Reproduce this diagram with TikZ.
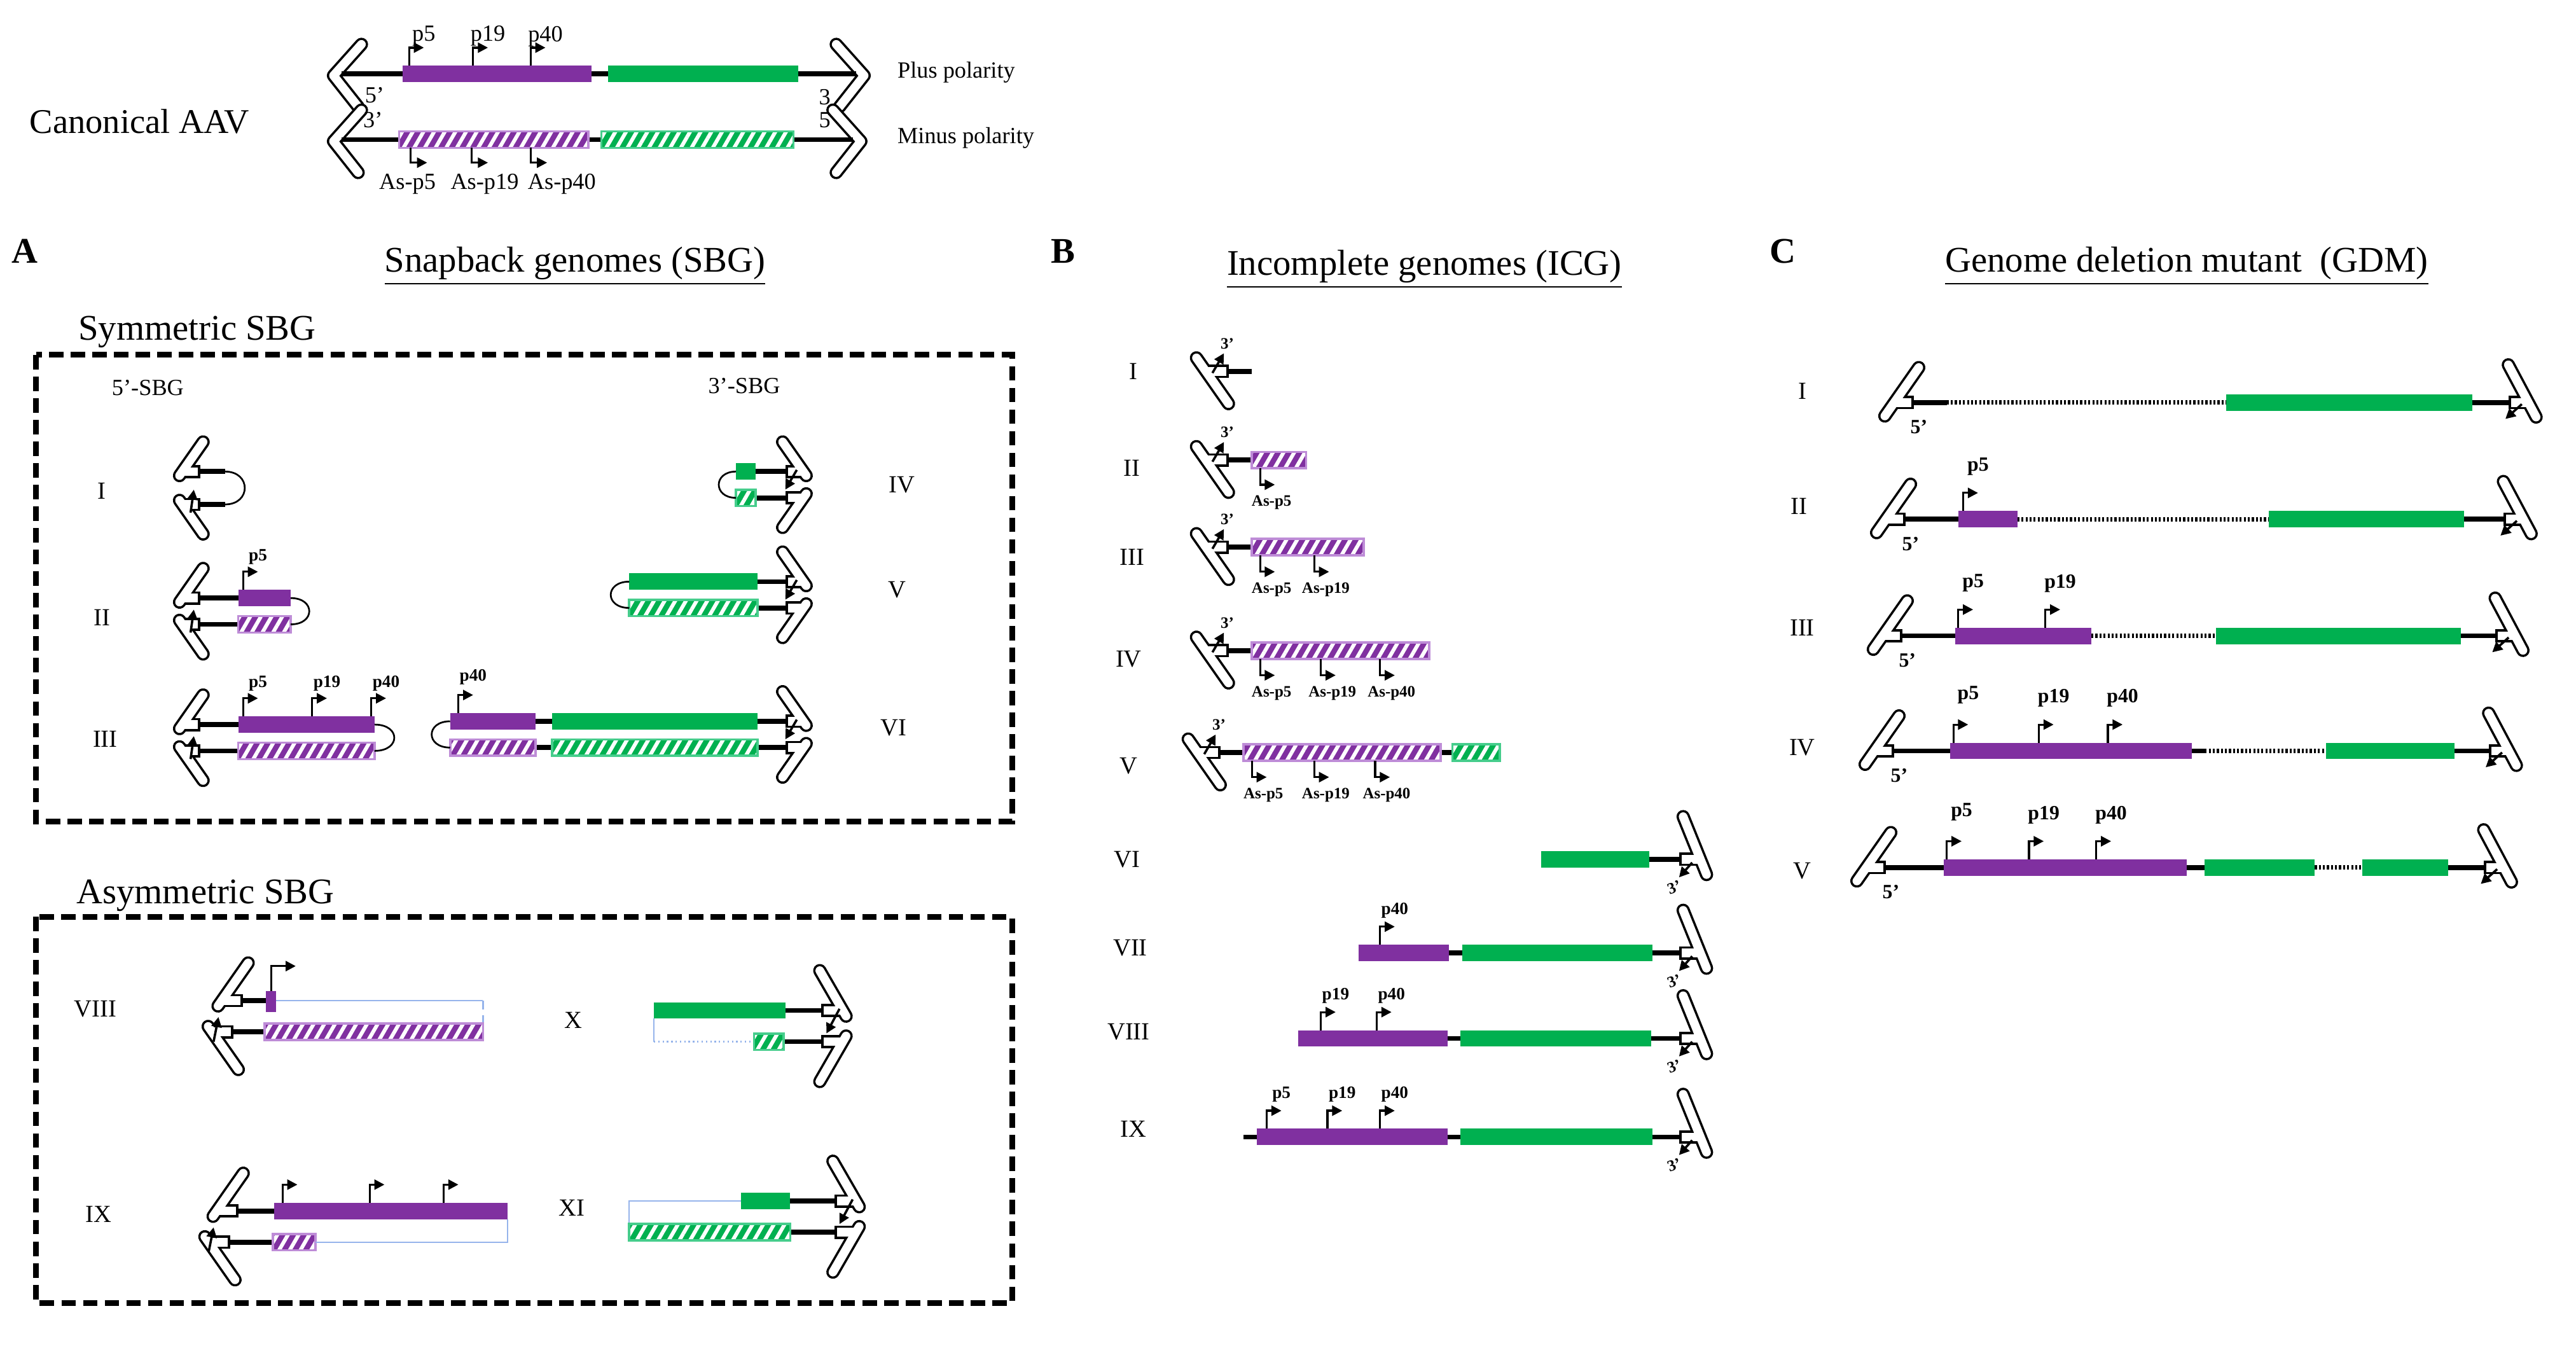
\documentclass[tikz,border=0pt]{standalone}
\usepackage{fontspec}
\setmainfont{Liberation Serif}
\usetikzlibrary{arrows.meta,patterns.meta}
\definecolor{purp}{RGB}{128,48,160}
\definecolor{lpurp}{RGB}{190,140,215}
\definecolor{grn}{RGB}{0,176,80}
\definecolor{lgrn}{RGB}{70,205,140}
\definecolor{thinb}{RGB}{150,180,235}
\tikzset{
 pb/.style={fill=purp},
 gb/.style={fill=grn},
 ph/.style={draw=lpurp,line width=0.8pt,preaction={fill=purp},pattern={Lines[angle=60,distance=3.2pt,line width=1.3pt]},pattern color=white},
 gh/.style={draw=lgrn,line width=0.8pt,preaction={fill=grn},pattern={Lines[angle=60,distance=3.2pt,line width=1.3pt]},pattern color=white},
 strand/.style={line width=1.7pt},
 dots/.style={line width=1.6pt,dash pattern=on 0.7pt off 0.7pt},
 thinl/.style={thinb,line width=0.5pt},
 itro/.style={line width=4.6pt,line cap=round,line join=round},
 itri/.style={white,line width=3.0pt,line cap=round,line join=round},
 prom/.style={line width=0.7pt,-{Triangle[length=3.5pt,width=3.5pt]}},
 sarr/.style={line width=0.8pt,-{Triangle[length=3.5pt,width=3.5pt]}},
 loopl/.style={line width=0.6pt},
 lbl/.style={font=\fontsize{6}{6}\selectfont\bfseries,inner sep=0},
 clbl/.style={font=\fontsize{7}{7}\selectfont\bfseries,inner sep=0},
 blbl/.style={font=\fontsize{5.5}{5.5}\selectfont\bfseries,inner sep=0},
 nlbl/.style={font=\fontsize{8}{8}\selectfont,inner sep=0},
 rom/.style={font=\fontsize{8.5}{8.5}\selectfont,inner sep=0},
 ttl/.style={font=\fontsize{12.5}{12.5}\selectfont,inner sep=0},
 big/.style={font=\fontsize{12.5}{12.5}\selectfont\bfseries,inner sep=0},
 dbox/.style={line width=2pt,dash pattern=on 5pt off 2.5pt}
}
\newcommand\bx[4]{\path[#1] (#2,#4-5) rectangle (#3,#4+5);}
\newcommand\sd[3]{\draw[strand] (#1,#3)--(#2,#3);}
\newcommand\dd[3]{\draw[dots] (#1,#3)--(#2,#3);}
\newcommand\pu[5]{\draw[prom] (#1,#2)--(#1,#2-11)--(#1+9,#2-11);\node[#4] at (#1+9,#2-#5) {#3};}
\newcommand\pua[2]{\draw[prom] (#1,#2)--(#1,#2-11)--(#1+9,#2-11);}
\newcommand\pd[4]{\draw[prom] (#1,#2)--(#1,#2+10)--(#1+9,#2+10);\node[blbl] at (#1+7,#2+#4) {#3};}
% T-shaped ITR: x,y junction; stem dx; visual angle; len+; len-
\newcommand\itr[6]{%
 \draw[itro] (#1+#3,#2) ++({-(#4)}:#5) -- ++({180-(#4)}:{#5+#6});
 \draw[itro,line cap=butt] (#1+#3,#2)--(#1,#2);
 \draw[itri] (#1+#3,#2) ++({-(#4)}:#5) -- ++({180-(#4)}:{#5+#6});
 \draw[itri,line cap=butt] (#1+#3,#2)--({#1+1.5*sign(#3)},#2);}
% V-shaped ITR: vertex x,y; dir; junction x
\newcommand\itrv[4]{%
 \draw[itro] (#1+#3*17,#2-19)--(#1,#2)--(#1+#3*15,#2+19);
 \draw[itri] (#1+#3*17,#2-19)--(#1,#2)--(#1+#3*15,#2+19);
 \draw[strand] (#1+#3*5,#2-1)--(#4,#2-1);}
\begin{document}
\begin{tikzpicture}[x=0.02cm,y=-0.02cm]
\useasboundingbox (0,0) rectangle (1568,819);
% ---------------- canonical
\node[ttl,font=\fontsize{12}{12}\selectfont] (can) at (85,74) {Canonical AAV};
\itrv{203}{46}{1}{222}\itrv{526}{46}{-1}{505}
\sd{218}{510}{45}\bx{pb}{245}{360}{45}\bx{gb}{370}{486}{45}
\itrv{203}{86}{1}{222}\itrv{524}{86}{-1}{505}
\sd{218}{508}{85}\bx{ph}{243}{358}{85}\bx{gh}{366}{483}{85}
\pu{249}{40}{p5}{nlbl}{18}\pu{288}{40}{p19}{nlbl}{18}\pu{323}{40}{p40}{nlbl}{18}
\draw[prom] (250,90)--(250,99)--(260,99);\draw[prom] (287,90)--(287,99)--(297,99);\draw[prom] (323,90)--(323,99)--(333,99);
\node[nlbl] (as5) at (248,112) {As-p5};\node[nlbl] (as19) at (295,112) {As-p19};\node[nlbl] (as40) at (342,112) {As-p40};
\node[nlbl] (c5) at (228,58) {5’};\node[nlbl] (c3) at (502,59) {3};
\node[nlbl] (c3b) at (227,73) {3’};\node[nlbl] (c5b) at (502,73) {5};
\node[nlbl,anchor=west] (plus) at (546,44) {Plus polarity};
\node[nlbl,anchor=west] (minus) at (546,84) {Minus polarity};
% ---------------- A
\node[big] (A) at (15,153) {A};
\node[ttl] (At) at (350,162) {\underline{Snapback genomes (SBG)}};
\node[ttl] (sym) at (120,202) {Symmetric SBG};
\draw[dbox] (22,216) rectangle (616,500);
\node[nlbl] (s5) at (90,236) {5’-SBG};\node[nlbl] (s3) at (453,235) {3’-SBG};
\node[rom] at (62,299) {I};\node[rom] at (62,376) {II};\node[rom] at (64,450) {III};
\node[rom] at (549,295) {IV};\node[rom] at (546,359) {V};\node[rom] at (544,443) {VI};
% sym I
\itr{122}{287}{-11}{55}{22}{3}\itr{122}{307}{-11}{-55}{22}{3}
\sd{122}{137}{287}\sd{122}{137}{307}
\draw[loopl] (137,287) .. controls (153,287) and (153,307) .. (137,307);
\draw[sarr] (116,312)--(118,298);
% sym II
\itr{122}{364}{-11}{55}{22}{3}\itr{122}{380}{-11}{-55}{22}{3}
\sd{122}{150}{364}\sd{122}{150}{380}
\bx{pb}{145}{177}{364}\bx{ph}{145}{177}{380}
\draw[loopl] (177,364) .. controls (192,364) and (192,380) .. (177,380);
\draw[sarr] (116,385)--(118,371);
\pu{148}{359}{p5}{lbl}{20}
% sym III
\itr{122}{441}{-11}{55}{22}{3}\itr{122}{457}{-11}{-55}{22}{3}
\sd{122}{150}{441}\sd{122}{150}{457}
\bx{pb}{145}{228}{441}\bx{ph}{145}{228}{457}
\draw[loopl] (228,441) .. controls (244,441) and (244,457) .. (228,457);
\draw[sarr] (116,462)--(118,448);
\pu{148}{436}{p5}{lbl}{20}\pu{190}{436}{p19}{lbl}{20}\pu{226}{436}{p40}{lbl}{20}
% sym IV
\itr{478}{287}{11}{125}{22}{3}\itr{478}{303}{11}{-125}{22}{3}
\sd{455}{478}{287}\sd{455}{478}{303}
\bx{gb}{448}{460}{287}\bx{gh}{448}{460}{303}
\draw[loopl] (448,287) .. controls (434,287) and (434,303) .. (448,303);
\draw[sarr] (485,286)--(478,298);
% sym V
\itr{478}{354}{11}{125}{22}{3}\itr{478}{370}{11}{-125}{22}{3}
\sd{455}{478}{354}\sd{455}{478}{370}
\bx{gb}{383}{461}{354}\bx{gh}{383}{461}{370}
\draw[loopl] (383,354) .. controls (368,354) and (368,370) .. (383,370);
\draw[sarr] (485,353)--(478,365);
% sym VI
\itr{478}{439}{11}{125}{22}{3}\itr{478}{455}{11}{-125}{22}{3}
\sd{280}{478}{439}\sd{280}{478}{455}
\bx{pb}{274}{326}{439}\bx{gb}{336}{461}{439}
\bx{ph}{274}{326}{455}\bx{gh}{336}{461}{455}
\draw[loopl] (274,439) .. controls (259,439) and (259,455) .. (274,455);
\draw[sarr] (485,438)--(478,450);
\pu{279}{434}{p40}{lbl}{22}
% asymmetric
\node[ttl] (asym) at (125,545) {Asymmetric SBG};
\draw[dbox] (22,558) rectangle (616,793);
\node[rom] at (58,614) {VIII};\node[rom] at (349,621) {X};\node[rom] at (60,739) {IX};\node[rom] at (348,735) {XI};
% VIII
\itr{148}{609}{-13}{55}{28}{4}\itr{142}{628}{-13}{-55}{28}{4}
\sd{148}{163}{609}\sd{142}{163}{628}
\fill[purp] (162,603) rectangle (168,616);
\draw[thinl] (168,609)--(294,609);\draw[thinl,densely dashed] (294,609)--(294,623);
\bx{ph}{161}{294}{628}
\draw[prom] (165,603)--(165,588)--(180,588);
\draw[sarr] (130,634)--(133,619);
% X
\itr{500}{615}{13}{120}{28}{4}\itr{500}{634}{13}{-120}{28}{4}
\sd{470}{500}{615}\sd{470}{500}{634}
\bx{gb}{398}{478}{615}
\draw[thinl] (398,620)--(398,634);\draw[thinl,densely dotted] (398,634)--(459,634);
\bx{gh}{459}{477}{634}
\draw[sarr] (511,614)--(503,629);
% IX
\itr{145}{737}{-13}{55}{28}{4}\itr{140}{756}{-13}{-55}{28}{4}
\sd{145}{170}{737}\sd{140}{170}{756}
\bx{pb}{167}{309}{737}
\pua{172}{732}\pua{225}{732}\pua{270}{732}
\bx{ph}{166}{192}{756}
\draw[thinl] (192,756)--(309,756)--(309,742);
\draw[sarr] (127,762)--(130,747);
% XI
\itr{508}{731}{13}{120}{28}{4}\itr{508}{750}{13}{-120}{28}{4}
\sd{475}{508}{731}\sd{475}{508}{750}
\draw[thinl] (451,731)--(383,731)--(383,745);
\bx{gb}{451}{481}{731}\bx{gh}{383}{481}{750}
\draw[sarr] (519,730)--(511,745);
% ---------------- B
\node[big] (B) at (647,153) {B};
\node[ttl] (Bt) at (867,164) {\underline{Incomplete genomes (ICG)}};
\node[rom] at (690,226) {I};\node[rom] at (689,285) {II};\node[rom] at (689,339) {III};
\node[rom] at (687,401) {IV};\node[rom] at (687,466) {V};\node[rom] at (686,523) {VI};
\node[rom] at (688,577) {VII};\node[rom] at (687,628) {VIII};\node[rom] at (690,687) {IX};
\foreach \y/\x in {226/748,280/748,333/748,396/748,458/743}{
 \itr{\x}{\y}{-14}{-55}{24}{10}
 \draw[sarr] (\x-10,\y+1)--(\x-3,\y-11);
 \node[blbl] at (\x-1,\y-17) {3’};}
\sd{748}{762}{226}
\sd{748}{765}{280}\bx{ph}{762}{795}{280}\pd{767}{285}{As-p5}{21}
\sd{748}{765}{333}\bx{ph}{762}{830}{333}\pd{767}{338}{As-p5}{21}\pd{800}{338}{As-p19}{21}
\sd{748}{765}{396}\bx{ph}{762}{870}{396}\pd{767}{401}{As-p5}{21}\pd{804}{401}{As-p19}{21}\pd{840}{401}{As-p40}{21}
\sd{743}{890}{458}\bx{ph}{757}{877}{458}\bx{gh}{884}{913}{458}
\pd{762}{463}{As-p5}{21}\pd{800}{463}{As-p19}{21}\pd{837}{463}{As-p40}{21}
\foreach \y in {523,580,632,692}{
 \itr{1022}{\y}{13}{112}{28}{10}
 \draw[sarr] (1030,\y+2)--(1022,\y+11);
 \node[blbl,rotate=20] at (1019,\y+17) {3’};}
\sd{990}{1022}{523}\bx{gb}{938}{1004}{523}
\sd{840}{1022}{580}\bx{pb}{827}{882}{580}\bx{gb}{890}{1006}{580}\pu{840}{575}{p40}{lbl}{21}
\sd{800}{1022}{632}\bx{pb}{790}{881}{632}\bx{gb}{889}{1005}{632}\pu{804}{627}{p19}{lbl}{21}\pu{838}{627}{p40}{lbl}{21}
\sd{757}{1022}{692}\bx{pb}{765}{881}{692}\bx{gb}{889}{1006}{692}\pu{771}{687}{p5}{lbl}{21}\pu{808}{687}{p19}{lbl}{21}\pu{840}{687}{p40}{lbl}{21}
% ---------------- C
\node[big] (C) at (1085,153) {C};
\node[ttl] (Ct) at (1331,162) {\underline{Genome deletion mutant\ \ (GDM)}};
\node[rom] at (1097,238) {I};\node[rom] at (1095,308) {II};\node[rom] at (1097,382) {III};
\node[rom] at (1097,455) {IV};\node[rom] at (1097,530) {V};
\foreach \y/\a/\b in {245/1165/1527,316/1160/1524,387/1158/1519,457/1153/1515,528/1148/1512}{
 \itr{\a}{\y}{-12}{55}{26}{10}
 \node[clbl] at (\a+3,\y+15) {5’};
 \itr{\b}{\y}{12}{118}{26}{10}
 \draw[sarr] (\b+8,\y+1)--(\b-2,\y+10);}
% C I
\sd{1165}{1185}{245}\dd{1185}{1355}{245}\sd{1500}{1527}{245}\bx{gb}{1355}{1505}{245}
% C II
\sd{1160}{1195}{316}\bx{pb}{1192}{1228}{316}\dd{1228}{1381}{316}\sd{1495}{1524}{316}\bx{gb}{1381}{1500}{316}
\pu{1195}{311}{p5}{clbl}{27}
% C III
\sd{1158}{1195}{387}\bx{pb}{1190}{1273}{387}\dd{1273}{1349}{387}\sd{1495}{1519}{387}\bx{gb}{1349}{1498}{387}
\pu{1192}{382}{p5}{clbl}{27}\pu{1245}{382}{p19}{clbl}{27}
% C IV
\sd{1153}{1342}{457}\bx{pb}{1187}{1334}{457}\dd{1342}{1416}{457}\sd{1490}{1515}{457}\bx{gb}{1416}{1494}{457}
\pu{1189}{452}{p5}{clbl}{29}\pu{1241}{452}{p19}{clbl}{27}\pu{1283}{452}{p40}{clbl}{27}
% C V
\sd{1148}{1345}{528}\bx{pb}{1183}{1331}{528}\bx{gb}{1342}{1409}{528}\dd{1409}{1438}{528}\sd{1485}{1512}{528}\bx{gb}{1438}{1490}{528}
\pu{1185}{523}{p5}{clbl}{29}\pu{1235}{523}{p19}{clbl}{27}\pu{1276}{523}{p40}{clbl}{27}
\end{tikzpicture}
\end{document}
